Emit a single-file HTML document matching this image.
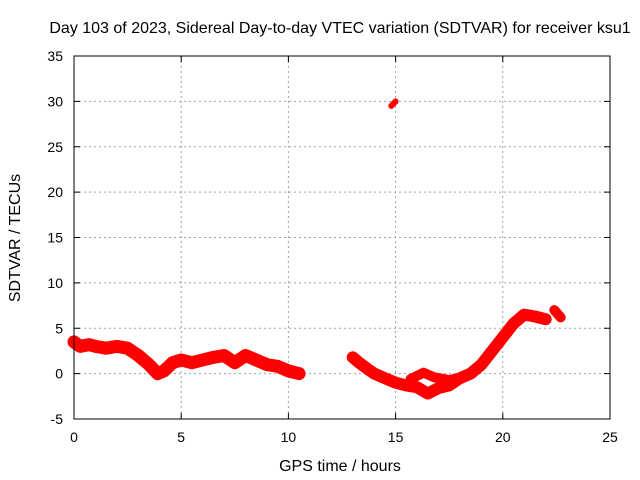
<!DOCTYPE html>
<html><head><meta charset="utf-8"><style>
body{margin:0;background:#fff;}
svg{display:block;font-family:"Liberation Sans",sans-serif;}
</style></head><body>
<svg id="chart" width="640" height="480">
<rect x="0" y="0" width="640" height="480" fill="#fff"/>
<text x="340" y="33" font-size="16" text-anchor="middle">Day 103 of 2023, Sidereal Day-to-day VTEC variation (SDTVAR) for receiver ksu1</text>
<text x="340" y="471" font-size="16" text-anchor="middle">GPS time / hours</text>
<text transform="translate(20,238) rotate(-90)" font-size="16" text-anchor="middle">SDTVAR / TECUs</text>
<g id="grid"></g><g id="marks"></g>
<rect x="74" y="56" width="536" height="363" fill="none" stroke="#000" stroke-width="1"/>
</svg>
<script>
const xTicks=[0,5,10,15,20,25];
const yTicks=[-5,0,5,10,15,20,25,30,35];
const seg1T=[0,0.3,0.7,1,1.5,2,2.5,3,3.5,3.9,4.2,4.6,5,5.5,6,6.5,7,7.5,8,8.5,9,9.5,10,10.5];
const seg1V=[3.5,3.0,3.2,3.0,2.8,3.0,2.8,2.0,1.0,0,0.3,1.2,1.5,1.2,1.5,1.8,2.0,1.2,2.0,1.5,1.0,0.8,0.3,0];
const seg2T=[13,13.3,13.7,14,14.5,15,15.5,16,16.5,17,17.5,18,18.5,19,19.5,20,20.5,21,21.5,22];
const seg2V=[1.8,1.2,0.5,0,-0.5,-1.0,-1.3,-1.5,-2.2,-1.6,-1.3,-0.5,0,1.0,2.5,4.0,5.5,6.5,6.3,6.0];
const seg3T=[22.4,22.7];
const seg3V=[7.0,6.2];
const seg4T=[14.8,15.0];
const seg4V=[29.5,30.0];
const seg5T=[15.7,16.3,16.8,17.5,18.3];
const seg5V=[-0.6,0.1,-0.4,-0.7,-0.3];
const NS='http://www.w3.org/2000/svg';
const X=v=>74+v*536/25, Y=v=>419-(v+5)*363/40;
const grid=document.getElementById('grid'), marks=document.getElementById('marks');
function mk(tag,attrs,parent){const e=document.createElementNS(NS,tag);for(const k in attrs)e.setAttribute(k,attrs[k]);parent.appendChild(e);return e;}
xTicks.forEach(t=>{
  if(t>0&&t<25){const l=mk('line',{x1:X(t),x2:X(t),y1:56,y2:419,stroke:'#a0a0a0','stroke-dasharray':'2,3'},grid);
  
  }
  mk('line',{x1:X(t),x2:X(t),y1:419,y2:413,stroke:'#000'},grid);
  mk('line',{x1:X(t),x2:X(t),y1:56,y2:62,stroke:'#000'},grid);
  const tx=mk('text',{x:X(t),y:442,'font-size':14,'text-anchor':'middle'},grid);tx.textContent=t;
  
  
});
yTicks.forEach(t=>{
  if(t>-5&&t<35){const l=mk('line',{x1:74,x2:610,y1:Y(t),y2:Y(t),stroke:'#a0a0a0','stroke-dasharray':'2,3'},grid);
  
  }
  mk('line',{x1:74,x2:80,y1:Y(t),y2:Y(t),stroke:'#000'},grid);
  mk('line',{x1:604,x2:610,y1:Y(t),y2:Y(t),stroke:'#000'},grid);
  const tx=mk('text',{x:63,y:Y(t)+5,'font-size':14,'text-anchor':'end'},grid);tx.textContent=t;
  
  
});
[[seg1T,seg1V,13],[seg2T,seg2V,12],[seg3T,seg3V,10],[seg4T,seg4V,6],[seg5T,seg5V,10]].forEach(([ts,vs,w],i)=>{
  const d=ts.map((t,j)=>(j?'L':'M')+X(t).toFixed(1)+','+Y(vs[j]).toFixed(1)).join(' ');
  const p=mk('path',{d:d,fill:'none',stroke:'#ff0000','stroke-width':w,'stroke-linejoin':'round','stroke-linecap':'round'},marks);
  
  
});
</script>
</body></html>
